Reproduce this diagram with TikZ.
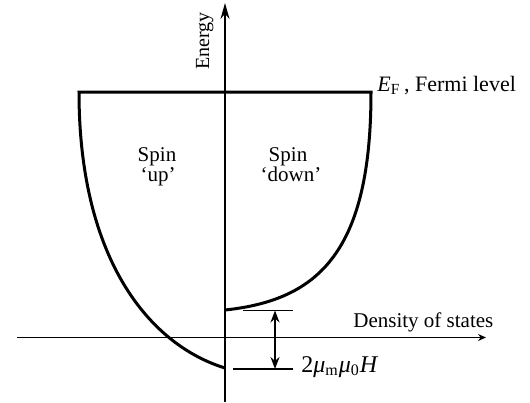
\documentclass[tikz,border=0pt]{standalone}
\usepackage{fontspec}
\setmainfont{Liberation Serif}
\usetikzlibrary{arrows.meta}
\begin{document}
\begin{tikzpicture}[x=0.5pt,y=-0.5pt,
  axis/.style={line width=0.8pt},
  curve/.style={line width=1.5pt},
  tick/.style={line width=0.8pt},
  lbl/.style={font=\fontsize{10.5}{12}\selectfont, inner sep=0pt}]
\useasboundingbox (0,0) rectangle (530,402);
% axes
\coordinate (vbot) at (225,402);
\coordinate (vtop) at (225,3);
\coordinate (hl) at (17,337.5);
\coordinate (hr) at (486,337.5);
\draw[axis,-{Stealth[length=8pt,width=4.5pt]}] (vbot) -- (vtop);
\draw[axis,-{Stealth[length=4pt,width=3.5pt]}] (hl) -- (hr);
% Fermi level and bands
\coordinate (fl) at (79,92);
\coordinate (fr) at (371,92);
\coordinate (upbot) at (225,368);
\coordinate (dnbot) at (225,310);
\draw[curve,line join=miter] (upbot) .. controls (150,345) and (79,260) .. (fl) -- (fr)
  .. controls (371,250) and (320,300) .. (dnbot);
% splitting marks
\coordinate (t1a) at (243,310.5);
\coordinate (t1b) at (293,310.5);
\coordinate (t2a) at (233,369);
\coordinate (t2b) at (293,369);
\draw[tick] (t1a) -- (t1b);
\draw[tick] (t2a) -- (t2b);
\coordinate (aa) at (275,310.5);
\coordinate (ab) at (275,369);
\draw[tick,{Stealth[length=6pt,width=4.5pt]}-{Stealth[length=6pt,width=4.5pt]}] (aa) -- (ab);
% labels
\node[lbl,font=\fontsize{10}{12}\selectfont,rotate=90,anchor=base] (energy) at (209,41) {Energy};
\node[lbl,font=\fontsize{11}{13}\selectfont,anchor=base west] (ef) at (377,91) {\textit{E}\textsubscript{F}\,, Fermi level};
\node[lbl,anchor=base west] (dos) at (353,327) {Density of states};
\node[lbl,font=\fontsize{12}{14}\selectfont,anchor=base west] (split) at (301,372) {2\textit{μ}\textsubscript{m}\textit{μ}\textsubscript{0}\textit{H}};
\node[lbl,anchor=base] (su1) at (157,161) {Spin};
\node[lbl,anchor=base] (su2) at (158,181) {‘up’};
\node[lbl,anchor=base] (sd1) at (288,161) {Spin};
\node[lbl,anchor=base] (sd2) at (291,181) {‘down’};
\end{tikzpicture}
\end{document}
